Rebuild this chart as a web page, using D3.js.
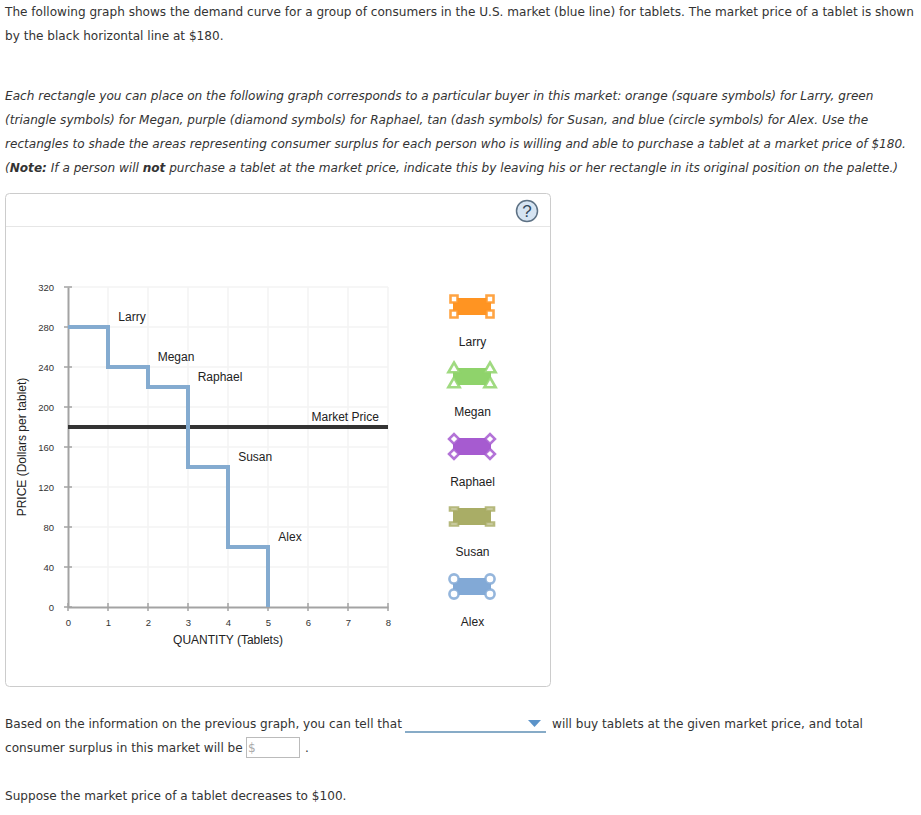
<!DOCTYPE html>
<html>
<head>
<meta charset="utf-8">
<script src="https://cdnjs.cloudflare.com/ajax/libs/d3/7.8.5/d3.min.js"></script>
<style>
  html, body { margin: 0; padding: 0; background: #fff; }
  svg { display: block; }
  .copy { font-family: "DejaVu Sans", sans-serif; font-size: 12.08px; fill: #333; }
  .chart { font-family: "Liberation Sans", Arial, sans-serif; font-size: 12px; fill: #222; }
  .tick { font-family: "Liberation Sans", Arial, sans-serif; font-size: 9.5px; fill: #333; }
</style>
</head>
<body>
<svg id="chart" width="921" height="815"></svg>
<script>
// demand steps
var demandQty = [0, 1, 1, 2, 2, 3, 3, 4, 4, 5, 5];
var demandPrice = [280, 280, 240, 240, 220, 220, 140, 140, 60, 60, 0];
var marketPrice = 180;

var xTicks = [0, 1, 2, 3, 4, 5, 6, 7, 8];
var yTicks = [0, 40, 80, 120, 160, 200, 240, 280, 320];

var buyers = ["Larry", "Megan", "Raphael", "Susan", "Alex"];
var buyerLabelQty = [1.6, 2.7, 3.8, 4.68, 5.55];
var buyerLabelPrice = [280, 240, 220, 140, 60];
var buyerColors = ["#ff9422", "#8fd36b", "#a65bd0", "#a9ad66", "#82a9d6"];
var buyerSymbols = ["square", "triangle", "diamond", "dash", "circle"];

var intro = [
  "The following graph shows the demand curve for a group of consumers in the U.S. market (blue line) for tablets. The market price of a tablet is shown",
  "by the black horizontal line at $180."
];
var instructions = [
  "Each rectangle you can place on the following graph corresponds to a particular buyer in this market: orange (square symbols) for Larry, green",
  "(triangle symbols) for Megan, purple (diamond symbols) for Raphael, tan (dash symbols) for Susan, and blue (circle symbols) for Alex. Use the",
  "rectangles to shade the areas representing consumer surplus for each person who is willing and able to purchase a tablet at a market price of $180."
];

var svg = d3.select("#chart");

var x = d3.scaleLinear().domain([0, 8]).range([68, 388]);
var y = d3.scaleLinear().domain([0, 320]).range([607, 287]);
var paletteY = d3.scalePoint().domain(buyers).range([299, 579]);

function copyLine(str, yPos, xPos) {
  return svg.append("text").attr("class", "copy")
    .attr("x", xPos === undefined ? 5 : xPos).attr("y", yPos).text(str);
}

// question text
intro.forEach(function(d, i) { copyLine(d, 16 + i * 24); });
instructions.forEach(function(d, i) {
  copyLine(d, 100 + i * 24).style("font-style", "italic");
});

var note = svg.append("text").attr("class", "copy").attr("x", 5).attr("y", 172).style("font-style", "italic");
note.append("tspan").text("(");
note.append("tspan").style("font-weight", "bold").text("Note:");
note.append("tspan").text(" If a person will ");
note.append("tspan").style("font-weight", "bold").text("not");
note.append("tspan").text(" purchase a tablet at the market price, indicate this by leaving his or her rectangle in its original position on the palette.)");

// panel
svg.append("rect").attr("x", 5.5).attr("y", 193.5).attr("width", 545).attr("height", 493)
  .attr("rx", 4).attr("fill", "#fff").attr("stroke", "#ccc");
svg.append("line").attr("x1", 6).attr("x2", 550).attr("y1", 226.5).attr("y2", 226.5).attr("stroke", "#e6e6e6");
svg.append("circle").attr("cx", 527).attr("cy", 211).attr("r", 10.5)
  .attr("fill", "#d6e4f2").attr("stroke", "#5d7184").attr("stroke-width", 1.5);
svg.append("text").attr("x", 527).attr("y", 217).attr("text-anchor", "middle")
  .style("font-family", "Liberation Sans, sans-serif").style("font-size", "17px").style("fill", "#33485c").text("?");

// grid
svg.append("g").selectAll("line").data(xTicks.slice(1)).enter().append("line")
  .attr("x1", d => x(d)).attr("x2", d => x(d)).attr("y1", y(320)).attr("y2", y(0))
  .attr("stroke", "#f3f3f3").attr("stroke-width", 1.5);
svg.append("g").selectAll("line").data(yTicks.slice(1)).enter().append("line")
  .attr("x1", x(0)).attr("x2", x(8)).attr("y1", d => y(d)).attr("y2", d => y(d))
  .attr("stroke", "#f3f3f3").attr("stroke-width", 1.5);

// axes
var xAxis = svg.append("g").attr("transform", "translate(0," + y(0) + ")")
  .call(d3.axisBottom(x).tickValues(xTicks).tickSize(0).tickPadding(12));
var yAxis = svg.append("g").attr("transform", "translate(" + x(0) + ",0)")
  .call(d3.axisLeft(y).tickValues(yTicks).tickSize(0).tickPadding(14));
[xAxis, yAxis].forEach(function(a) {
  a.attr("font-family", null).attr("font-size", null);
  a.selectAll("text").attr("class", "tick");
  a.select(".domain").attr("stroke", "#a3a3a3").attr("stroke-width", 2);
});

svg.append("g").selectAll("line").data(xTicks).enter().append("line")
  .attr("x1", d => x(d)).attr("x2", d => x(d)).attr("y1", y(0) - 4).attr("y2", y(0) + 4)
  .attr("stroke", "#a3a3a3").attr("stroke-width", 1.5);
svg.append("g").selectAll("line").data(yTicks).enter().append("line")
  .attr("x1", x(0) - 4).attr("x2", x(0) + 4).attr("y1", d => y(d)).attr("y2", d => y(d))
  .attr("stroke", "#a3a3a3").attr("stroke-width", 1.5);

// market price line
svg.append("line").attr("x1", x(0)).attr("x2", x(8)).attr("y1", y(marketPrice)).attr("y2", y(marketPrice))
  .attr("stroke", "#333").attr("stroke-width", 4);

// demand curve
var demandLine = d3.line().x(d => x(demandQty[d])).y(d => y(demandPrice[d]));
svg.append("path").attr("d", demandLine(d3.range(demandQty.length)))
  .attr("fill", "none").attr("stroke", "#84abd0").attr("stroke-width", 4).attr("stroke-linejoin", "miter");

// labels on the graph
svg.append("g").selectAll("text").data(buyers).enter().append("text")
  .attr("class", "chart").attr("text-anchor", "middle")
  .attr("x", (d, i) => x(buyerLabelQty[i]))
  .attr("y", (d, i) => y(buyerLabelPrice[i]) - 6)
  .text(d => d);
svg.append("text").attr("class", "chart").attr("text-anchor", "middle")
  .attr("x", x(6.93)).attr("y", y(marketPrice) - 6).text("Market Price");
svg.append("text").attr("class", "chart").attr("text-anchor", "middle")
  .attr("x", x(4)).attr("y", 644).text("QUANTITY (Tablets)");
svg.append("text").attr("class", "chart").attr("text-anchor", "middle")
  .attr("transform", "translate(26," + y(160) + ") rotate(-90)").text("PRICE (Dollars per tablet)");

// palette rectangles with their corner handles
function drawHandle(g, kind, cx, cy, color) {
  var h = g.append("path").attr("fill", "#fff").attr("stroke", color)
    .attr("stroke-width", 2.6).attr("stroke-opacity", 0.85);
  if (kind === "square" || kind === "diamond") h.attr("d", d3.symbol().type(d3.symbolSquare).size(49)());
  if (kind === "triangle") h.attr("d", d3.symbol().type(d3.symbolTriangle).size(55)());
  if (kind === "circle") h.attr("d", d3.symbol().type(d3.symbolCircle).size(66)());
  if (kind === "dash") h.attr("d", "M-4,-1.5H4V1.5H-4Z");
  h.attr("transform", "translate(" + cx + "," + cy + ")" + (kind === "diamond" ? " rotate(45)" : ""));
}

buyers.forEach(function(name, i) {
  var top = paletteY(name);
  var g = svg.append("g");
  g.append("rect").attr("x", 453).attr("y", top - 1).attr("width", 38).attr("height", 17)
    .attr("fill", buyerColors[i]);
  [[454, top], [490, top], [454, top + 15], [490, top + 15]].forEach(function(c) {
    drawHandle(g, buyerSymbols[i], c[0], c[1], buyerColors[i]);
  });
  svg.append("text").attr("class", "chart").attr("text-anchor", "middle")
    .attr("x", 472.5).attr("y", top + 47).text(name);
});

// follow-up question
copyLine("Based on the information on the previous graph, you can tell that", 728);
svg.append("line").attr("x1", 405).attr("x2", 546).attr("y1", 732).attr("y2", 732)
  .attr("stroke", "#5f8fb5").attr("stroke-width", 1.5);
svg.append("path").attr("d", "M528,720H541L534.5,727Z").attr("fill", "#5b93c9");
copyLine("will buy tablets at the given market price, and total", 728, 552);
copyLine("consumer surplus in this market will be", 752);
svg.append("rect").attr("x", 246.5).attr("y", 737.5).attr("width", 53).attr("height", 20)
  .attr("fill", "#fff").attr("stroke", "#bbb");
svg.append("text").attr("class", "copy").attr("x", 248).attr("y", 752).style("fill", "#aaa").text("$");
copyLine(".", 752, 305);
copyLine("Suppose the market price of a tablet decreases to $100.", 800);
</script>
</body>
</html>
